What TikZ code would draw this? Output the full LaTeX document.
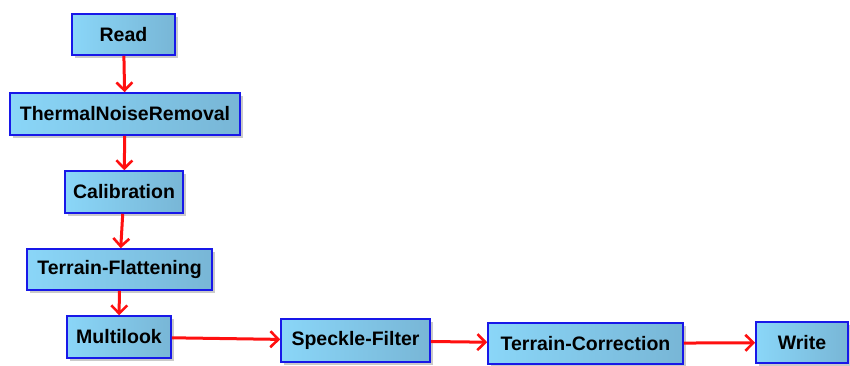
\documentclass[tikz,border=0pt]{standalone}
\usepackage{fontspec}
\setmainfont{Liberation Sans}
\usetikzlibrary{arrows.meta,shadows}
\definecolor{boxL}{HTML}{8AD6F8}
\definecolor{boxR}{HTML}{78B6D6}
\definecolor{boxB}{HTML}{1818E8}
\definecolor{arr}{HTML}{FF1010}
\tikzset{
  opbox/.style={draw=boxB, line width=1.6pt, left color=boxL, right color=boxR,
    inner sep=0pt, font=\fontsize{19.5}{22}\selectfont\bfseries,
    drop shadow={shadow xshift=3pt, shadow yshift=-3pt, opacity=0.35, fill=black!60}},
  flow/.style={draw=arr, line width=3pt, -{Straight Barb[length=8pt,width=16pt,line width=2.6pt]}}
}
\begin{document}
\begin{tikzpicture}[x=1pt,y=-1pt]
\useasboundingbox (0,0) rectangle (850,365);
\node[opbox, minimum width=103pt, minimum height=41pt] (read) at (123.5,34.5) {Read};
\node[opbox, minimum width=230pt, minimum height=42pt] (tnr) at (125,114) {ThermalNoiseRemoval};
\node[opbox, minimum width=118pt, minimum height=42pt] (cal) at (124,192) {Calibration};
\node[opbox, minimum width=185pt, minimum height=41pt] (tf) at (119.5,269.5) {Terrain-Flattening};
\node[opbox, minimum width=104pt, minimum height=42pt] (ml) at (119,337) {Multilook};
\node[opbox, minimum width=149pt, minimum height=43pt] (sf) at (355.5,340.5) {Speckle-Filter};
\node[opbox, minimum width=195pt, minimum height=41pt] (tc) at (585.5,343.5) {Terrain-Correction};
\node[opbox, minimum width=92pt, minimum height=41pt] (wr) at (802,342.5) {Write};
\draw[flow] (read) -- (tnr);
\draw[flow] (tnr) -- (cal);
\draw[flow] (cal) -- (tf);
\draw[flow] (tf) -- (ml);
\draw[flow] (ml) -- (sf);
\draw[flow] (sf) -- (tc);
\draw[flow] (tc) -- (wr);
\end{tikzpicture}
\end{document}
